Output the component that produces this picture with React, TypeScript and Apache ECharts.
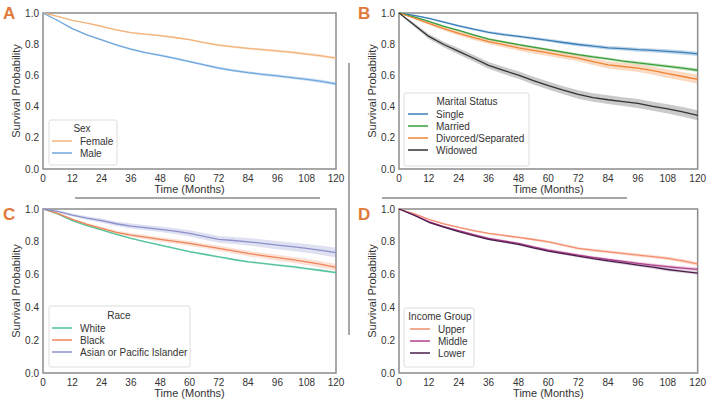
import React, { useEffect, useRef } from "react";
import * as echarts from "echarts";

// Follow-up time in months
const months = [0, 6, 12, 18, 24, 30, 36, 42, 48, 54, 60, 66, 72, 78, 84, 90, 96, 102, 108, 114, 120];

// Panel A – sex
const femaleSurv = [1, 0.978, 0.953, 0.935, 0.915, 0.892, 0.874, 0.864, 0.855, 0.843, 0.829, 0.81, 0.794, 0.783, 0.773, 0.765, 0.757, 0.748, 0.737, 0.725, 0.711];
const femaleCI = [0, 0.002, 0.003, 0.003, 0.004, 0.004, 0.005, 0.005, 0.005, 0.006, 0.006, 0.006, 0.007, 0.007, 0.007, 0.008, 0.008, 0.008, 0.008, 0.009, 0.009];
const maleSurv = [1, 0.952, 0.9, 0.86, 0.828, 0.795, 0.768, 0.746, 0.729, 0.709, 0.689, 0.667, 0.647, 0.631, 0.618, 0.607, 0.597, 0.586, 0.575, 0.562, 0.546];
const maleCI = [0, 0.003, 0.004, 0.004, 0.005, 0.005, 0.006, 0.006, 0.006, 0.007, 0.007, 0.007, 0.008, 0.008, 0.008, 0.009, 0.009, 0.009, 0.01, 0.01, 0.01];

// Panel B – marital status
const singleSurv = [1, 0.985, 0.966, 0.942, 0.918, 0.896, 0.876, 0.862, 0.85, 0.838, 0.825, 0.811, 0.798, 0.787, 0.777, 0.771, 0.765, 0.76, 0.754, 0.747, 0.738];
const singleCI = [0, 0.004, 0.005, 0.006, 0.007, 0.008, 0.008, 0.009, 0.009, 0.01, 0.01, 0.011, 0.011, 0.012, 0.012, 0.012, 0.013, 0.013, 0.013, 0.014, 0.014];
const marriedSurv = [1, 0.975, 0.946, 0.915, 0.888, 0.859, 0.833, 0.815, 0.797, 0.781, 0.765, 0.749, 0.733, 0.719, 0.706, 0.692, 0.68, 0.669, 0.658, 0.646, 0.633];
const marriedCI = [0, 0.003, 0.004, 0.005, 0.005, 0.006, 0.006, 0.007, 0.007, 0.007, 0.008, 0.008, 0.008, 0.009, 0.009, 0.009, 0.01, 0.01, 0.01, 0.011, 0.011];
const divorcedSurv = [1, 0.968, 0.934, 0.9, 0.87, 0.842, 0.817, 0.797, 0.776, 0.76, 0.744, 0.727, 0.711, 0.688, 0.668, 0.657, 0.647, 0.63, 0.611, 0.593, 0.575];
const divorcedCI = [0, 0.007, 0.01, 0.012, 0.014, 0.015, 0.016, 0.017, 0.018, 0.019, 0.02, 0.021, 0.021, 0.022, 0.023, 0.024, 0.025, 0.026, 0.027, 0.028, 0.029];
const widowedSurv = [1, 0.925, 0.85, 0.798, 0.754, 0.71, 0.664, 0.632, 0.602, 0.566, 0.535, 0.505, 0.478, 0.458, 0.444, 0.432, 0.42, 0.402, 0.385, 0.366, 0.344];
const widowedCI = [0, 0.012, 0.016, 0.018, 0.02, 0.021, 0.022, 0.023, 0.024, 0.025, 0.026, 0.026, 0.027, 0.027, 0.028, 0.028, 0.029, 0.029, 0.03, 0.031, 0.032];

// Panel C – race
const whiteSurv = [1, 0.97, 0.929, 0.898, 0.872, 0.845, 0.821, 0.8, 0.78, 0.76, 0.74, 0.724, 0.708, 0.692, 0.678, 0.668, 0.658, 0.648, 0.637, 0.625, 0.612];
const whiteCI = [0, 0.002, 0.003, 0.003, 0.004, 0.004, 0.004, 0.005, 0.005, 0.005, 0.005, 0.006, 0.006, 0.006, 0.006, 0.006, 0.007, 0.007, 0.007, 0.007, 0.007];
const blackSurv = [1, 0.973, 0.937, 0.906, 0.882, 0.858, 0.841, 0.828, 0.815, 0.803, 0.79, 0.775, 0.76, 0.745, 0.729, 0.716, 0.703, 0.691, 0.678, 0.662, 0.644];
const blackCI = [0, 0.005, 0.007, 0.009, 0.01, 0.011, 0.012, 0.013, 0.013, 0.014, 0.015, 0.015, 0.016, 0.016, 0.017, 0.017, 0.018, 0.018, 0.019, 0.02, 0.02];
const asianSurv = [1, 0.985, 0.963, 0.945, 0.929, 0.91, 0.896, 0.886, 0.876, 0.865, 0.851, 0.833, 0.815, 0.808, 0.8, 0.79, 0.78, 0.77, 0.76, 0.748, 0.734];
const asianCI = [0, 0.006, 0.009, 0.011, 0.013, 0.014, 0.015, 0.016, 0.017, 0.018, 0.019, 0.02, 0.021, 0.022, 0.023, 0.024, 0.025, 0.026, 0.027, 0.028, 0.029];

// Panel D – income group
const upperSurv = [1, 0.972, 0.937, 0.91, 0.888, 0.868, 0.851, 0.839, 0.827, 0.814, 0.8, 0.78, 0.76, 0.749, 0.739, 0.729, 0.719, 0.709, 0.699, 0.684, 0.665];
const upperCI = [0, 0.003, 0.004, 0.005, 0.005, 0.006, 0.006, 0.007, 0.007, 0.007, 0.008, 0.008, 0.008, 0.009, 0.009, 0.009, 0.01, 0.01, 0.01, 0.011, 0.011];
const middleSurv = [1, 0.965, 0.923, 0.893, 0.868, 0.843, 0.821, 0.806, 0.79, 0.769, 0.749, 0.734, 0.719, 0.705, 0.692, 0.68, 0.668, 0.658, 0.648, 0.64, 0.632];
const middleCI = [0, 0.003, 0.004, 0.005, 0.005, 0.006, 0.006, 0.007, 0.007, 0.007, 0.008, 0.008, 0.008, 0.009, 0.009, 0.009, 0.01, 0.01, 0.01, 0.011, 0.011];
const lowerSurv = [1, 0.962, 0.919, 0.889, 0.862, 0.837, 0.815, 0.8, 0.784, 0.763, 0.743, 0.728, 0.713, 0.698, 0.684, 0.671, 0.658, 0.645, 0.631, 0.62, 0.609];
const lowerCI = [0, 0.003, 0.004, 0.004, 0.005, 0.005, 0.006, 0.006, 0.006, 0.007, 0.007, 0.007, 0.008, 0.008, 0.008, 0.009, 0.009, 0.009, 0.01, 0.01, 0.01];

const FONT = "'Liberation Sans', Arial, sans-serif";
const TEXT = "#333333";
const PANEL_LABEL = "#e0793a";

type Group = { name: string; surv: number[]; ci: number[]; color: string; band: string };
type Panel = {
  label: string;
  grid: { left: number; top: number; width: number; height: number };
  labelPos: [number, number];
  legendTitle: string;
  legendBox: [number, number, number, number];
  legendTitleCenter: [number, number];
  legendLeft: number;
  legendTop: number;
  groups: Group[];
};

const panels: Panel[] = [
  {
    label: "A",
    grid: { left: 43, top: 13, width: 293, height: 156 },
    labelPos: [3, 5],
    legendTitle: "Sex",
    legendBox: [49, 120, 68, 45],
    legendTitleCenter: [82, 128],
    legendLeft: 52,
    legendTop: 136,
    groups: [
      { name: "Female", surv: femaleSurv, ci: femaleCI, color: "#f2b47c", band: "rgba(242,180,124,0.35)" },
      { name: "Male", surv: maleSurv, ci: maleCI, color: "#6fa7de", band: "rgba(111,167,222,0.35)" },
    ],
  },
  {
    label: "B",
    grid: { left: 399, top: 13, width: 299, height: 156 },
    labelPos: [358, 5],
    legendTitle: "Marital Status",
    legendBox: [404, 93, 125, 73],
    legendTitleCenter: [467, 101],
    legendLeft: 408,
    legendTop: 109,
    groups: [
      { name: "Single", surv: singleSurv, ci: singleCI, color: "#3a7fb8", band: "rgba(58,127,184,0.3)" },
      { name: "Married", surv: marriedSurv, ci: marriedCI, color: "#3a9e3a", band: "rgba(58,158,58,0.3)" },
      { name: "Divorced/Separated", surv: divorcedSurv, ci: divorcedCI, color: "#ef8434", band: "rgba(239,132,52,0.3)" },
      { name: "Widowed", surv: widowedSurv, ci: widowedCI, color: "#333333", band: "rgba(80,80,80,0.3)" },
    ],
  },
  {
    label: "C",
    grid: { left: 43, top: 209, width: 293, height: 164 },
    labelPos: [3, 206],
    legendTitle: "Race",
    legendBox: [49, 306, 141, 61],
    legendTitleCenter: [119, 315],
    legendLeft: 52,
    legendTop: 323,
    groups: [
      { name: "White", surv: whiteSurv, ci: whiteCI, color: "#52c29a", band: "rgba(82,194,154,0.3)" },
      { name: "Black", surv: blackSurv, ci: blackCI, color: "#ee8458", band: "rgba(238,132,88,0.25)" },
      { name: "Asian or Pacific Islander", surv: asianSurv, ci: asianCI, color: "#8b91cb", band: "rgba(139,145,203,0.28)" },
    ],
  },
  {
    label: "D",
    grid: { left: 399, top: 209, width: 299, height: 164 },
    labelPos: [358, 206],
    legendTitle: "Income Group",
    legendBox: [404, 308, 70, 59],
    legendTitleCenter: [440, 316],
    legendLeft: 410,
    legendTop: 324,
    groups: [
      { name: "Upper", surv: upperSurv, ci: upperCI, color: "#f28f6e", band: "rgba(242,143,110,0.3)" },
      { name: "Middle", surv: middleSurv, ci: middleCI, color: "#b13f8c", band: "rgba(177,63,140,0.25)" },
      { name: "Lower", surv: lowerSurv, ci: lowerCI, color: "#4a1d4a", band: "rgba(74,29,74,0.2)" },
    ],
  },
];

// Confidence band drawn as one polygon: upper edge forward, lower edge back
function bandSeries(g: Group, pi: number) {
  const data = months.map((t, i) => [t, g.surv[i] - g.ci[i], g.surv[i] + g.ci[i]]);
  return {
    name: `${g.name} 95% CI`,
    type: "custom",
    coordinateSystem: "cartesian2d",
    xAxisIndex: pi,
    yAxisIndex: pi,
    silent: true,
    clip: true,
    z: 1,
    encode: { x: 0, y: [1, 2] },
    data,
    renderItem: (params: any, api: any) => {
      if (params.dataIndex !== 0) return null;
      const upper = data.map((d) => api.coord([d[0], d[2]]));
      const lower = data.map((d) => api.coord([d[0], d[1]])).reverse();
      return {
        type: "polygon",
        shape: { points: upper.concat(lower) },
        style: { fill: g.band, stroke: "none" },
      };
    },
  };
}

function buildOption() {
  const grid: any[] = [];
  const xAxis: any[] = [];
  const yAxis: any[] = [];
  const series: any[] = [];
  const legend: any[] = [];
  const graphic: any[] = [];

  panels.forEach((p, pi) => {
    grid.push({
      ...p.grid,
      show: true,
      borderColor: "#8c8c8c",
      borderWidth: 1.5,
      backgroundColor: "#ffffff",
    });
    xAxis.push({
      gridIndex: pi,
      type: "value",
      min: 0,
      max: 120,
      interval: 12,
      axisLine: { show: false },
      axisTick: { show: false },
      splitLine: { show: false },
      axisLabel: { fontSize: 10, color: TEXT, fontFamily: FONT, margin: 4, showMinLabel: true, showMaxLabel: true },
      name: "Time (Months)",
      nameLocation: "middle",
      nameGap: 14,
      nameTextStyle: { fontSize: 11, color: TEXT, fontFamily: FONT },
    });
    yAxis.push({
      gridIndex: pi,
      type: "value",
      min: 0,
      max: 1,
      interval: 0.2,
      axisLine: { show: false },
      axisTick: { show: false },
      splitLine: { show: false },
      axisLabel: {
        fontSize: 10,
        color: TEXT,
        fontFamily: FONT,
        margin: 4,
        formatter: (v: number) => v.toFixed(1),
      },
      name: "Survival Probability",
      nameLocation: "middle",
      nameGap: 19,
      nameTextStyle: { fontSize: 11, color: TEXT, fontFamily: FONT },
    });

    p.groups.forEach((g) => series.push(bandSeries(g, pi)));
    p.groups.forEach((g) => {
      series.push({
        name: g.name,
        type: "line",
        xAxisIndex: pi,
        yAxisIndex: pi,
        data: months.map((t, i) => [t, g.surv[i]]),
        symbol: "none",
        lineStyle: { color: g.color, width: 1.3 },
        itemStyle: { color: g.color },
        z: 2,
      });
    });

    legend.push({
      data: p.groups.map((g) => g.name),
      orient: "vertical",
      left: p.legendLeft,
      top: p.legendTop,
      icon: "rect",
      itemWidth: 20,
      itemHeight: 1.5,
      itemGap: 2,
      padding: 0,
      selectedMode: false,
      z: 6,
      textStyle: { fontSize: 10, color: TEXT, fontFamily: FONT, padding: [0, 0, 0, 3] },
    });

    const [bx, by, bw, bh] = p.legendBox;
    graphic.push({
      type: "rect",
      shape: { x: bx, y: by, width: bw, height: bh, r: 2 },
      style: { fill: "rgba(255,255,255,0.85)", stroke: "#dddddd", lineWidth: 1 },
      z: 5,
    });
    graphic.push({
      type: "text",
      x: p.legendTitleCenter[0],
      y: p.legendTitleCenter[1],
      style: {
        text: p.legendTitle,
        fontSize: 10,
        fontFamily: FONT,
        fill: TEXT,
        align: "center",
        verticalAlign: "middle",
      },
      z: 6,
    });
    graphic.push({
      type: "text",
      x: p.labelPos[0],
      y: p.labelPos[1],
      style: {
        text: p.label,
        fontSize: 17,
        fontWeight: "bold",
        fontFamily: FONT,
        fill: PANEL_LABEL,
      },
      z: 6,
    });
  });

  // Divider strokes between the panels
  const divider = { stroke: "#8a8a8a", lineWidth: 1.5 };
  graphic.push({ type: "line", shape: { x1: 75, y1: 198, x2: 320, y2: 198 }, style: divider });
  graphic.push({ type: "line", shape: { x1: 382, y1: 198, x2: 627, y2: 198 }, style: divider });
  graphic.push({ type: "line", shape: { x1: 349, y1: 63, x2: 349, y2: 335 }, style: divider });

  return {
    animation: false,
    backgroundColor: "#ffffff",
    textStyle: { fontFamily: FONT },
    grid,
    xAxis,
    yAxis,
    series,
    legend,
    graphic,
  };
}

export default function App() {
  const ref = useRef<HTMLDivElement>(null);

  useEffect(() => {
    document.body.style.margin = "0";
    if (!ref.current) return;
    const chart = echarts.init(ref.current, undefined, { renderer: "svg" });
    chart.setOption(buildOption() as any);
    return () => chart.dispose();
  }, []);

  return <div ref={ref} style={{ width: 709, height: 401 }} />;
}
